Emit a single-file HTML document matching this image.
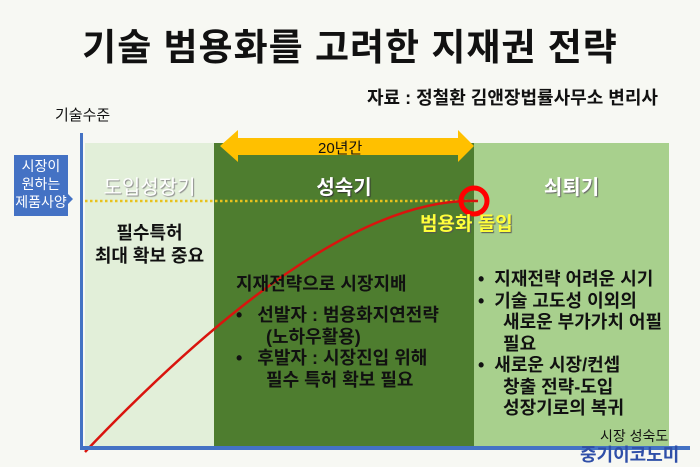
<!DOCTYPE html>
<html><head><meta charset="utf-8"><style>
body{margin:0;width:700px;height:467px;background:#f7f8f3;position:relative;overflow:hidden;font-family:"Liberation Sans","Noto Sans CJK KR",sans-serif;font-weight:bold;color:#111}
.a{position:absolute;white-space:nowrap}
.t{font-size:18px;line-height:21.5px}
</style></head><body>
<div class="a" style="left:0;width:700px;top:17px;text-align:center;font-size:37px;letter-spacing:1px">기술 범용화를 고려한 지재권 전략</div>
<div class="a" style="left:367px;top:84px;font-size:18px">자료 : 정철환 김앤장법률사무소 변리사</div>
<div class="a" style="left:55px;top:104px;font-size:15px;font-weight:normal">기술수준</div>
<div class="a" style="left:85px;top:143px;width:129px;height:305px;background:#e2efd9"></div>
<div class="a" style="left:214px;top:143px;width:260px;height:305px;background:#4e7d2f"></div>
<div class="a" style="left:474px;top:143px;width:195px;height:305px;background:#a8d08d"></div>
<svg class="a" style="left:0;top:0" width="700" height="467">
<polygon points="220,146 238,130 238,138 458,138 458,130 474,146 458,162 458,155 238,155 238,162" fill="#ffc000"/>
<line x1="85" y1="201" x2="480" y2="201" stroke="#e8c21c" stroke-width="2.5" stroke-dasharray="2.5 2.5"/>
<path d="M85,452 Q330,195 478,201" fill="none" stroke="#d9140e" stroke-width="2.5"/>
<circle cx="474" cy="201" r="13" fill="none" stroke="#ff0000" stroke-width="5"/>
<rect x="80" y="133" width="3" height="317" fill="#4472c4"/>
<rect x="80" y="446" width="610" height="4" fill="#4472c4"/>
<polygon points="14,155 68,155 68,194 73,199 68,204 68,216 14,216" fill="#4472c4"/>
</svg>
<div class="a" style="left:12px;top:157px;width:58px;text-align:center;color:#fff;font-size:14px;line-height:18px;font-weight:normal">시장이<br>원하는<br>제품사양</div>
<div class="a" style="left:318px;top:137px;font-size:15px;font-weight:normal">20년간</div>
<div class="a" style="left:85px;top:171px;width:129px;text-align:center;color:#fff;font-size:20px;font-weight:normal;text-shadow:1px 1px 1px #888">도입성장기</div>
<div class="a" style="left:214px;top:171px;width:260px;text-align:center;color:#fff;font-size:20px;text-shadow:1px 1px 1px #333">성숙기</div>
<div class="a" style="left:474px;top:171px;width:195px;text-align:center;color:#fff;font-size:20px;text-shadow:1px 1px 1px #666">쇠퇴기</div>
<div class="a" style="left:420px;top:209px;color:#ffff3a;font-size:19px;text-shadow:1px 1px 1px #555">범용화 돌입</div>
<div class="a t" style="left:85px;top:222px;width:129px;text-align:center;line-height:23px">필수특허<br>최대 확보 중요</div>
<div class="a t" style="left:236px;top:274px">지재전략으로 시장지배</div>
<div class="a t" style="left:236px;top:305px;line-height:21.5px">•&nbsp;&nbsp;&nbsp;선발자 : 범용화지연전략<br>&nbsp;&nbsp;&nbsp;&nbsp;&nbsp;&nbsp;(노하우활용)<br>•&nbsp;&nbsp;&nbsp;후발자 : 시장진입 위해<br>&nbsp;&nbsp;&nbsp;&nbsp;&nbsp;&nbsp;필수 특허 확보 필요</div>
<div class="a t" style="left:478px;top:269px">•&nbsp;&nbsp;지재전략 어려운 시기<br>•&nbsp;&nbsp;기술 고도성 이외의<br>&nbsp;&nbsp;&nbsp;&nbsp;&nbsp;새로운 부가가치 어필<br>&nbsp;&nbsp;&nbsp;&nbsp;&nbsp;필요<br>•&nbsp;&nbsp;새로운 시장/컨셉<br>&nbsp;&nbsp;&nbsp;&nbsp;&nbsp;창출 전략-도입<br>&nbsp;&nbsp;&nbsp;&nbsp;&nbsp;성장기로의 복귀</div>
<div class="a" style="left:600px;top:426px;font-size:14px;font-weight:normal">시장 성숙도</div>
<div class="a" style="left:580px;top:441px;font-size:18px;color:#2f4fa8">중기이코노미</div>
</body></html>
